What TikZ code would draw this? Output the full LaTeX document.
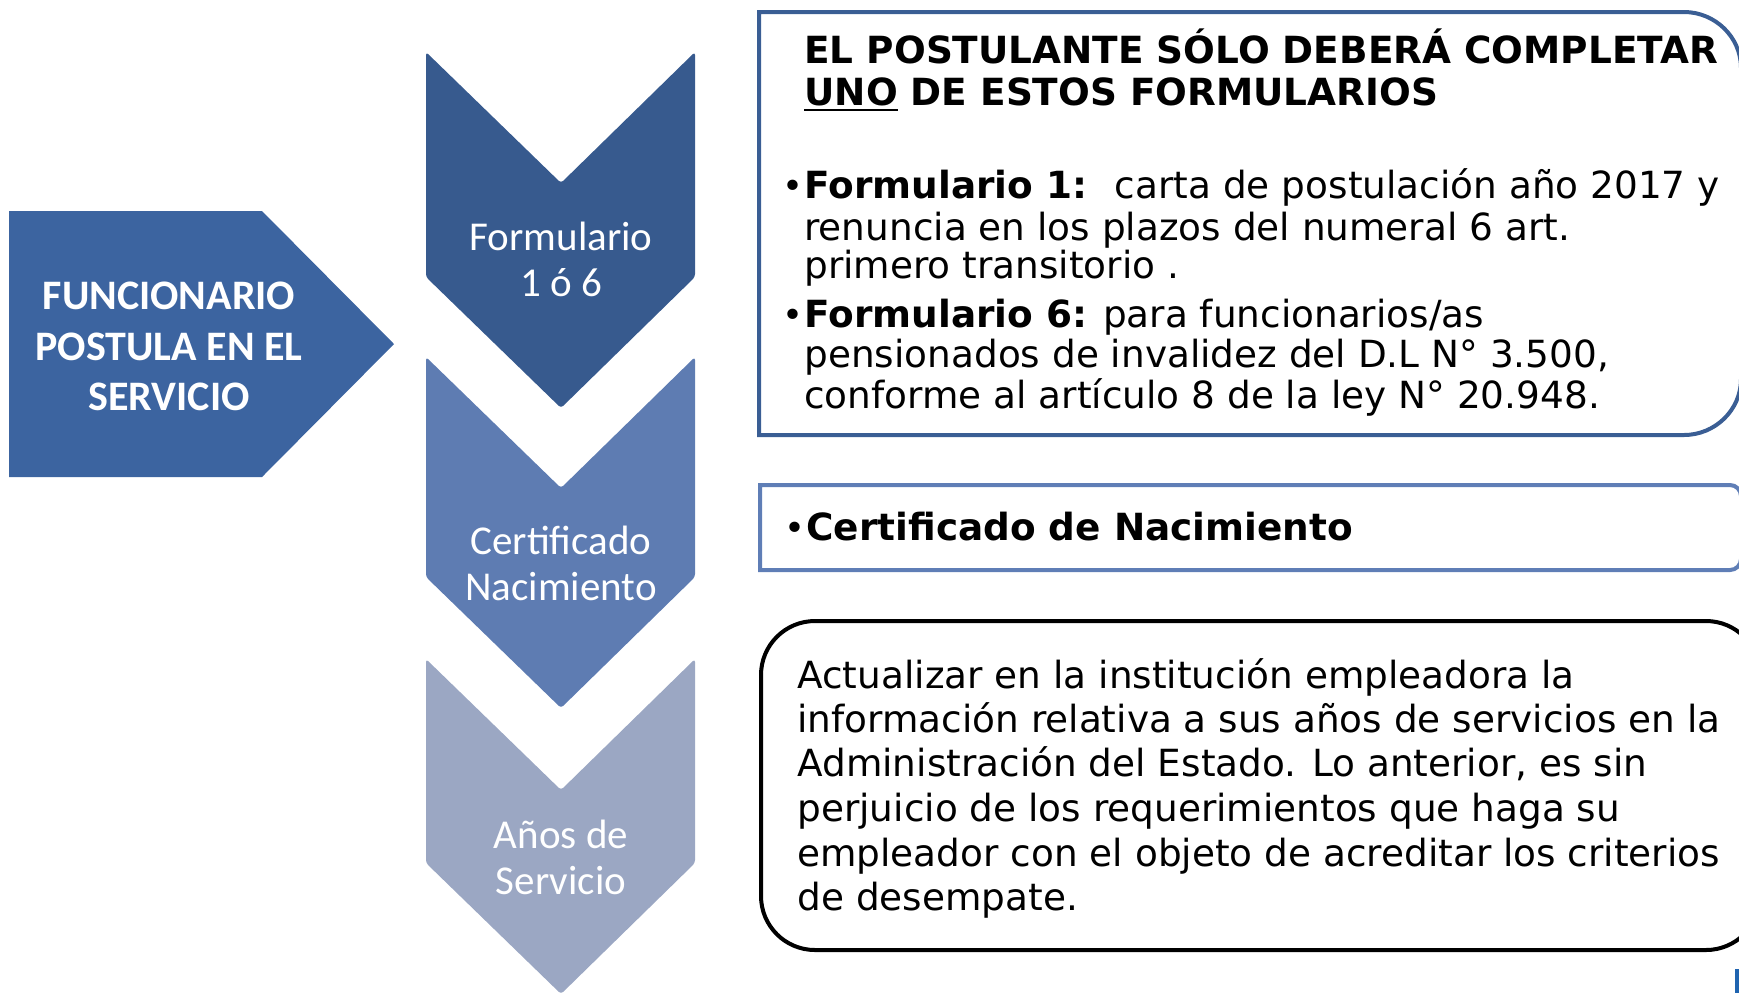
\documentclass[tikz,border=0pt]{standalone}
\usepackage{fontspec}
\usepackage{graphicx}
\setmainfont{DejaVu Sans}
\newfontfamily\calfont{Carlito}
\definecolor{cpent}{HTML}{3C64A0}
\definecolor{cc1}{HTML}{375A8E}
\definecolor{cc2}{HTML}{5E7CB2}
\definecolor{cc3}{HTML}{9BA7C3}
\definecolor{bb1}{HTML}{3A5E94}
\definecolor{bb2}{HTML}{5F7EB6}
\definecolor{markblue}{HTML}{1F64B0}
\newcommand\myul[1]{\setbox0\hbox{#1}\rlap{\rule[-0.17em]{\wd0}{0.075em}}\box0\relax}
\newcommand\mybul{\llap{\scalebox{0.95}{•}\hspace{0.02em}}}
\begin{document}
\begin{tikzpicture}[x=0.5pt,y=-0.5pt,
  txt/.style={anchor=base west, inner sep=0pt, font=\fontsize{18.7}{22}\selectfont},
  chevtxt/.style={anchor=base, inner sep=0pt, text=white, font=\calfont\fontsize{20.5}{24}\selectfont},
  lefttxt/.style={anchor=base, inner sep=0pt, text=white, font=\calfont\bfseries\fontsize{21}{25}\selectfont},
  shapefill/.style={fill=#1, draw=none, rounded corners=1.5pt}
]
\useasboundingbox (0,0) rectangle (1739,993);

% left pentagon
\fill[cpent] (9,211) -- (262,211) -- (394,344) -- (262,477) -- (9,477) -- cycle;
\node[lefttxt] (l1) at (169,309) {FUNCIONARIO};
\node[lefttxt] (l2) at (169,360) {POSTULA EN EL};
\node[lefttxt] (l3) at (169,410) {SERVICIO};

% chevrons
\path[shapefill=cc1] (426,52) -- (561,183) -- (695,52) -- (695,277) -- (561,408) -- (426,277) -- cycle;
\path[shapefill=cc2] (426,357) -- (561,488) -- (695,357) -- (695,577) -- (561,708) -- (426,577) -- cycle;
\path[shapefill=cc3] (426,659) -- (561,790) -- (695,659) -- (695,863) -- (561,994) -- (426,863) -- cycle;

\node[chevtxt] (f1) at (561,250) {Formulario};
\node[chevtxt] (f2) at (561,296) {1 ó 6};
\node[chevtxt] (c1) at (561,554) {Certificado};
\node[chevtxt] (c2) at (561,600) {Nacimiento};
\node[chevtxt] (a1) at (561,848) {Años de};
\node[chevtxt] (a2) at (561,894) {Servicio};

% box 1
\draw[bb1, line width=2pt] (759,12) -- (1684,12) .. controls (1715,12) and (1741,37) .. (1741,68) -- (1741,379) .. controls (1741,410) and (1715,435) .. (1684,435) -- (759,435) -- cycle;
\node[txt] (h1) at (804,63) {\bfseries EL POSTULANTE SÓLO DEBERÁ COMPLETAR};
\node[txt] (h2) at (804,105) {\bfseries\myul{UNO} DE ESTOS FORMULARIOS};
\node[txt] (b1) at (804,198) {\mybul\textbf{Formulario 1:}~ carta de postulación año 2017 y};
\node[txt] (b2) at (804,240) {renuncia en los plazos del numeral 6 art.};
\node[txt] (b3) at (804,278) {primero transitorio .};
\node[txt] (b4) at (804,327) {\mybul\textbf{Formulario 6:} para funcionarios/as};
\node[txt] (b5) at (804,367) {pensionados de invalidez del D.L N° 3.500,};
\node[txt] (b6) at (804,408) {conforme al artículo 8 de la ley N° 20.948.};

% box 2
\draw[bb2, line width=2pt] (760,485) -- (1730,485) .. controls (1736,485) and (1741,490) .. (1741,496) -- (1741,559) .. controls (1741,565) and (1736,570) .. (1730,570) -- (760,570) -- cycle;
\node[txt] (n1) at (806,540) {\mybul\textbf{Certificado de Nacimiento}};

% box 3
\draw[black, line width=2pt, rounded corners=27pt] (761,621) rectangle (1760,950);
\node[txt] (s1) at (797,688) {Actualizar en la institución empleadora la};
\node[txt] (s2) at (797,732) {información relativa a sus años de servicios en la};
\node[txt] (s3) at (797,776) {Administración del Estado. Lo anterior, es sin};
\node[txt] (s4) at (797,821) {perjuicio de los requerimientos que haga su};
\node[txt] (s5) at (797,866) {empleador con el objeto de acreditar los criterios};
\node[txt] (s6) at (797,910) {de desempate.};

% corner mark
\fill[markblue] (1735,969) rectangle (1739,993);
\end{tikzpicture}
\end{document}
